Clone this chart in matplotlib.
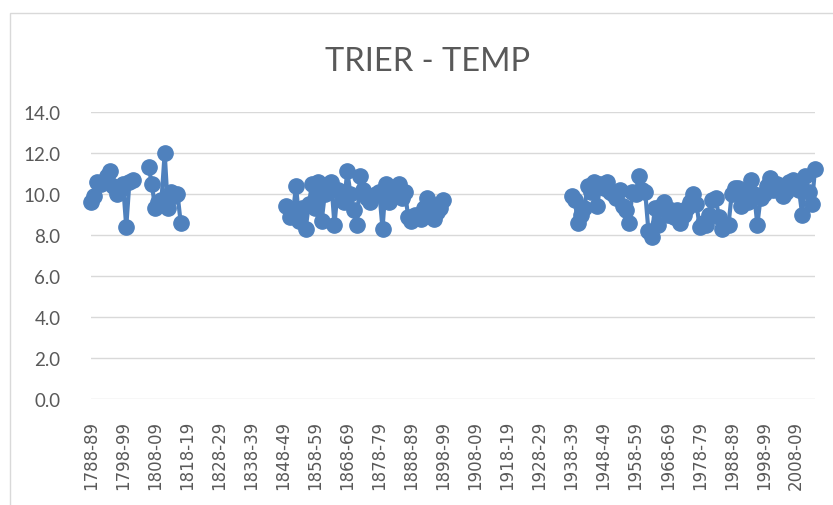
import matplotlib
matplotlib.use("Agg")
import matplotlib.pyplot as plt
import numpy as np
from matplotlib.patches import Rectangle

# Annual mean temperature, Trier (°C), by season label "YYYY-YY"
first_season = 1788
last_season = 2014

seg1_start = 1788
seg1_temps = [9.6, 9.9, 10.6, 10.5, 10.6, 10.9, 11.1, 10.4, 10.0, 10.2,
              10.5, 8.4, 10.6, 10.7]

seg2_start = 1806
seg2_temps = [11.3, 10.5, 9.3, 9.6, 9.7, 12.0, 9.3, 10.1, 9.9, 10.0, 8.6]

seg3_start = 1849
seg3_temps = [9.4, 8.9, 9.0, 10.4, 8.7, 9.3, 8.3, 9.5, 10.5, 9.3,
              10.6, 8.7, 10.0, 10.5, 10.6, 8.5, 10.2, 10.0, 9.6, 11.1,
              10.0, 9.2, 8.5, 10.9, 10.2, 9.8, 9.6, 9.9, 10.0, 10.1,
              8.3, 10.5, 9.6, 10.1, 9.9, 10.5, 9.8, 10.1, 8.9, 8.7,
              9.0, 8.9, 8.8, 9.3, 9.8, 9.5, 8.8, 9.1, 9.3, 9.7]

seg4_start = 1938
seg4_temps = [9.9, 9.7, 8.6, 9.0, 9.3, 10.4, 10.1, 10.6, 9.4, 10.5,
              10.3, 10.6, 10.1, 10.0, 9.8, 10.2, 9.4, 9.2, 8.6, 10.1,
              10.0, 10.9, 10.2, 10.1, 8.2, 7.9, 9.3, 8.5, 9.4, 9.6,
              9.0, 9.2, 8.9, 9.2, 8.6, 9.0, 9.3, 9.6, 10.0, 9.5,
              8.4, 8.6, 8.5, 9.0, 9.7, 9.8, 8.9, 8.3, 8.5, 8.5,
              10.0, 10.3, 10.3, 9.4, 10.1, 9.6, 10.7, 10.0, 8.5, 9.8,
              10.0, 10.4, 10.8, 10.2, 10.5, 10.4, 9.9, 10.1, 10.6, 10.7,
              10.3, 10.2, 9.0, 10.9, 10.1, 9.5, 11.2]

segments = [(seg1_start, seg1_temps), (seg2_start, seg2_temps),
            (seg3_start, seg3_temps), (seg4_start, seg4_temps)]

years = np.arange(first_season, last_season + 1)
seasons = [f"{y}-{(y + 1) % 100:02d}" for y in years]
temps = np.full(len(years), np.nan)
for start, vals in segments:
    idx = start - first_season
    temps[idx:idx + len(vals)] = vals

W, H = 833, 506
fig = plt.figure(figsize=(W / 100, H / 100), dpi=100)
fig.patch.set_facecolor("white")

# chart-area frame
fig.patches.append(Rectangle((10 / W, -0.05), 1.2, 1 - 14 / H + 0.05,
                             transform=fig.transFigure, fill=False,
                             edgecolor="#D9D9D9", lw=1.0))

left, right, bottom, top = 91 / W, 815 / W, 1 - 400 / H, 1 - 113 / H
ax = fig.add_axes([left, bottom, right - left, top - bottom])

pos = np.arange(len(years))
ax.plot(pos, temps, color="#4F81BD", lw=3.0, marker="o", markersize=11,
        markerfacecolor="#4F81BD", markeredgecolor="#4F81BD", zorder=3,
        clip_on=False)

ax.set_xlim(0, len(years) - 1)
ax.set_ylim(0, 14)
ax.set_yticks(np.arange(0, 14.1, 2))
ax.set_yticklabels([f"{v:.1f}" for v in np.arange(0, 14.1, 2)],
                   fontsize=13.5, color="#595959", family="Lato")
ax.set_xticks(pos[::10])
ax.set_xticklabels(seasons[::10], rotation=90, fontsize=12,
                   color="#595959", family="DejaVu Sans")
ax.tick_params(axis="both", length=0)
ax.tick_params(axis="y", pad=22)
ax.tick_params(axis="x", pad=15)
ax.grid(axis="y", color="#D9D9D9", lw=1.0)
ax.set_axisbelow(True)
for s in ax.spines.values():
    s.set_visible(False)

fig.text(428 / W, 1 - 62 / H, "TRIER - TEMP", ha="center", va="center",
         fontsize=23.5, color="#595959", family="Lato")

fig.savefig("out.png", dpi=100)
